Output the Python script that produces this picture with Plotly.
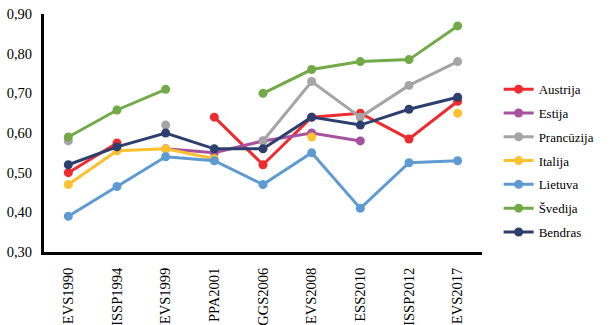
import plotly.graph_objects as go

categories = ["EVS1990", "ISSP1994", "EVS1999", "PPA2001", "GGS2006",
              "EVS2008", "ESS2010", "ISSP2012", "EVS2017"]

austrija   = [0.50, 0.575, None, 0.64, 0.52, 0.64, 0.65, 0.585, 0.68]
estija     = [None, None, 0.56, 0.55, 0.58, 0.60, 0.58, None, None]
prancuzija = [0.58, None, 0.62, None, 0.58, 0.73, 0.64, 0.72, 0.78]
italija    = [0.47, 0.555, 0.56, 0.535, None, 0.59, None, None, 0.65]
lietuva    = [0.39, 0.465, 0.54, 0.53, 0.47, 0.55, 0.41, 0.525, 0.53]
svedija    = [0.59, 0.658, 0.71, None, 0.70, 0.76, 0.78, 0.785, 0.87]
bendras    = [0.52, 0.565, 0.60, 0.56, 0.56, 0.64, 0.62, 0.66, 0.69]

series = [
    ("Austrija", austrija, "#EE2B2E"),
    ("Estija", estija, "#A7529E"),
    ("Prancūzija", prancuzija, "#A5A5A7"),
    ("Italija", italija, "#FDC12F"),
    ("Lietuva", lietuva, "#5E9BD2"),
    ("Švedija", svedija, "#72AA48"),
    ("Bendras", bendras, "#2D3F6F"),
]

y_ticks = [0.3, 0.4, 0.5, 0.6, 0.7, 0.8, 0.9]

fig = go.Figure()
for name, vals, col in series:
    fig.add_trace(go.Scatter(
        x=categories, y=vals, name=name, legendgroup=name,
        mode="lines+markers",
        line=dict(color=col, width=3), marker=dict(color=col, size=9),
        connectgaps=False,
    ))

font_family = "Liberation Serif"
fig.update_layout(
    width=612, height=325,
    margin=dict(l=44, r=125, t=14, b=73),
    paper_bgcolor="white", plot_bgcolor="white",
    separators=",.",
    font=dict(family=font_family, size=14, color="black"),
    showlegend=True,
    legend=dict(x=1.038, y=0.747, xanchor="left", yanchor="top",
                font=dict(family=font_family, size=13, color="black"),
                itemwidth=30, tracegroupgap=3.9, bgcolor="rgba(0,0,0,0)"),
    xaxis=dict(type="category", range=[-0.5, 8.5], showgrid=False,
               showline=True, linecolor="black", linewidth=3,
               tickangle=-90, ticks="", ticklabelstandoff=7,
               automargin=False,
               tickfont=dict(family=font_family, size=14.5, color="black")),
    yaxis=dict(range=[0.3, 0.9], tickvals=y_ticks, tickformat=".2f",
               showgrid=False, zeroline=False,
               showline=True, linecolor="black", linewidth=3,
               ticks="", ticklabelstandoff=6, automargin=False,
               tickfont=dict(family=font_family, size=14.5, color="black")),
)

fig.write_html(
    "out.html",
    config={"displayModeBar": False},
    post_script="document.body.style.margin='0';document.body.style.padding='0';",
)
